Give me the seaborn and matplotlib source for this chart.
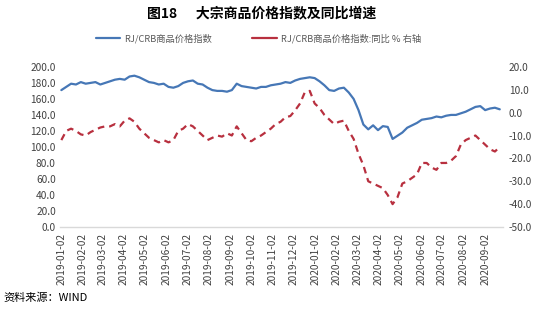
import matplotlib
matplotlib.use("Agg")
import matplotlib.pyplot as plt
import seaborn as sns
import pandas as pd
import numpy as np
from matplotlib.lines import Line2D

sns.set_theme(style="white")
plt.rcParams['font.family'] = ['Noto Sans CJK SC', 'DejaVu Sans']

start_date = "2019-01-02"
n_weeks = 91

index_values = [171, 175, 179, 178, 181, 179, 180, 181, 178, 180,
                182, 184, 185, 184, 188, 189, 187, 184, 181, 180,
                178, 179, 175, 174, 176, 180, 182, 183, 179, 178,
                174, 171, 170, 170, 169, 171, 179, 176, 175, 174,
                173, 175, 175, 177, 178, 179, 181, 180, 183, 185,
                186, 187, 186, 182, 177, 171, 170, 173, 174, 168,
                160, 146, 128, 122, 127, 121, 126, 125, 110, 114,
                118, 124, 127, 130, 134, 135, 136, 138, 137, 139,
                140, 140, 142, 144, 147, 150, 151, 146, 148, 149,
                147]

yoy_values = [-12, -8, -7, -8, -9.5, -10, -8.5, -7.5, -6.5, -6,
              -6, -5, -6, -3.5, -2.5, -4, -7, -9, -11, -12,
              -13, -12, -13, -12, -8, -7, -5, -6, -8, -10,
              -12, -11, -10, -10.5, -9, -10, -6, -9, -12, -12.5,
              -11, -10, -8.5, -7, -5, -4, -2, -1.5, 1, 4,
              9, 9.5, 4, 2, -1, -3, -5, -4, -3.5, -8,
              -11.5, -18, -23, -30, -31, -32, -33, -36, -40, -37,
              -31, -30, -28.5, -27, -22, -22, -24, -25, -22, -22,
              -21, -19, -14, -12, -11, -10, -12, -14, -16, -17,
              -15]

tick_dates = pd.date_range("2019-01-01", "2020-09-01", freq="MS") + pd.Timedelta(days=1)
tick_labels = [d.strftime("%Y-%m-%d") for d in tick_dates]

dates = pd.date_range(start_date, periods=n_weeks, freq="7D")
df = pd.DataFrame({"date": dates, "index": index_values, "yoy": yoy_values})

blue = "#4677B6"
red = "#B8303F"
gray = "#404040"

fig = plt.figure(figsize=(5.5, 3.14), dpi=100)
ax = fig.add_axes([0.109, 0.277, 0.806, 0.51])
ax2 = ax.twinx()

sns.lineplot(data=df, x="date", y="index", ax=ax, color=blue, linewidth=1.6)
sns.lineplot(data=df, x="date", y="yoy", ax=ax2, color=red, linewidth=1.6,
             linestyle=(0, (3, 2.2)))

ax.set_ylim(0, 200)
ax.set_yticks(np.arange(0, 201, 20))
ax.set_yticklabels([f"{v:.1f}" for v in np.arange(0, 201, 20)])
ax2.set_ylim(-50, 20)
ax2.set_yticks(np.arange(-50, 21, 10))
ax2.set_yticklabels([f"{v:.1f}" for v in np.arange(-50, 21, 10)])

ax.set_xlim(pd.Timestamp("2018-12-31"), pd.Timestamp("2020-09-28"))
ax.set_xticks(tick_dates)
ax.set_xticklabels(tick_labels, rotation=90)

for a in (ax, ax2):
    a.set_xlabel("")
    a.set_ylabel("")
    for s in a.spines.values():
        s.set_visible(False)
    a.tick_params(axis="both", length=0, labelsize=7.3, labelcolor=gray, pad=2)
    a.grid(False)
ax.spines["bottom"].set_visible(True)
ax.spines["bottom"].set_color("#D9D9D9")
ax.spines["bottom"].set_linewidth(1.0)
ax.tick_params(axis="x", pad=4)
ax.tick_params(axis="y", pad=3)
ax2.tick_params(axis="y", pad=4)

fig.text(0.475, 0.958, "图18      大宗商品价格指数及同比增速", ha="center", va="center",
         fontsize=10, fontweight="bold", color="black")

handles = [Line2D([0], [0], color=blue, lw=1.6),
           Line2D([0], [0], color=red, lw=1.6)]
leg = fig.legend(handles, ["RJ/CRB商品价格指数", "RJ/CRB商品价格指数:同比 % 右轴"],
                 loc="center", bbox_to_anchor=(0.47, 0.877), ncol=2, frameon=False,
                 fontsize=6.7, handlelength=2.6, columnspacing=4.3, handletextpad=0.5)
for t in leg.get_texts():
    t.set_color("#595959")

fig.text(0.006, 0.053, "资料来源：WIND", ha="left", va="center", fontsize=8, color="black")

fig.savefig("out.png", dpi=100)
